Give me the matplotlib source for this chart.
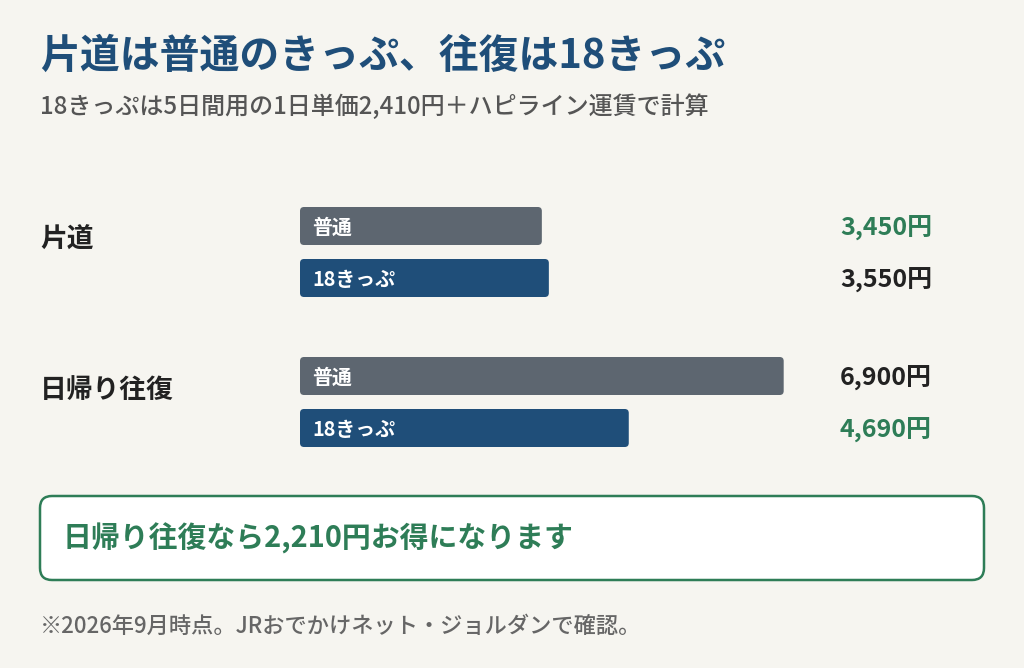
import matplotlib
matplotlib.use("Agg")
import matplotlib.pyplot as plt
from matplotlib.patches import FancyBboxPatch

plt.rcParams['font.family'] = ['Noto Sans CJK JP', 'DejaVu Sans']

groups = ["片道", "日帰り往復"]
series = ["普通", "18きっぷ"]
values = [[3450, 3550], [6900, 4690]]
value_labels = [["3,450円", "3,550円"], ["6,900円", "4,690円"]]

BG = "#f6f5f0"
NAVY = "#1f4e79"
GRAY = "#5d6670"
GREEN = "#2e7d57"
DARK = "#222222"

W, H = 1024, 668
fig = plt.figure(figsize=(W/100, H/100), dpi=100, facecolor=BG)
ax = fig.add_axes([0, 0, 1, 1])
ax.set_facecolor(BG)
S = 0.0701  # px per yen
x0 = 300
ax.set_xlim(-x0/S, (W-x0)/S)
ax.set_ylim(H, 0)
ax.axis("off")
ux = 1/S  # data units per px in x

def px(x):
    return (x - x0) / S

fig.text(40/W, 1-56/H, "片道は普通のきっぷ、往復は18きっぷ", fontsize=28.7, fontweight="bold", color=NAVY, va="center")
fig.text(40/W, 1-107/H, "18きっぷは5日間用の1日単価2,410円＋ハピライン運賃で計算", fontsize=17.3, fontweight=500, color="#555555", va="center")

centers = [[226, 278], [376, 428]]
group_y = [240, 390]
colors = [GRAY, NAVY]
bh = 38
for gi, g in enumerate(groups):
    ax.text(px(40), group_y[gi], g, fontsize=19.3, fontweight="bold", color=DARK, va="center")
    cheaper = min(values[gi])
    for si, s in enumerate(series):
        v = values[gi][si]
        cy = centers[gi][si]
        p = FancyBboxPatch((0, cy - bh/2), v, bh,
                           boxstyle=f"round,pad=0,rounding_size={4*ux}",
                           mutation_aspect=1/ux, facecolor=colors[si], edgecolor="none")
        ax.add_patch(p)
        ax.text(12*ux, cy + 1, s, fontsize=14.3, fontweight="bold", color="white", va="center")
        ax.text(px(932), cy + 2, value_labels[gi][si], fontsize=18, fontweight="bold",
                color=GREEN if v == cheaper else DARK, ha="right", va="center")

box = FancyBboxPatch((px(40), 496), 944*ux, 84,
                     boxstyle=f"round,pad=0,rounding_size={12*ux}",
                     mutation_aspect=1/ux, facecolor="white", edgecolor=GREEN, linewidth=1.8)
ax.add_patch(box)
ax.text(px(63), 538, "日帰り往復なら2,210円お得になります", fontsize=20.8, fontweight="bold", color=GREEN, va="center")
ax.text(px(40), 626, "※2026年9月時点。JRおでかけネット・ジョルダンで確認。", fontsize=16, fontweight=500, color="#666666", va="center")

fig.savefig("out.png", dpi=100, facecolor=BG)
